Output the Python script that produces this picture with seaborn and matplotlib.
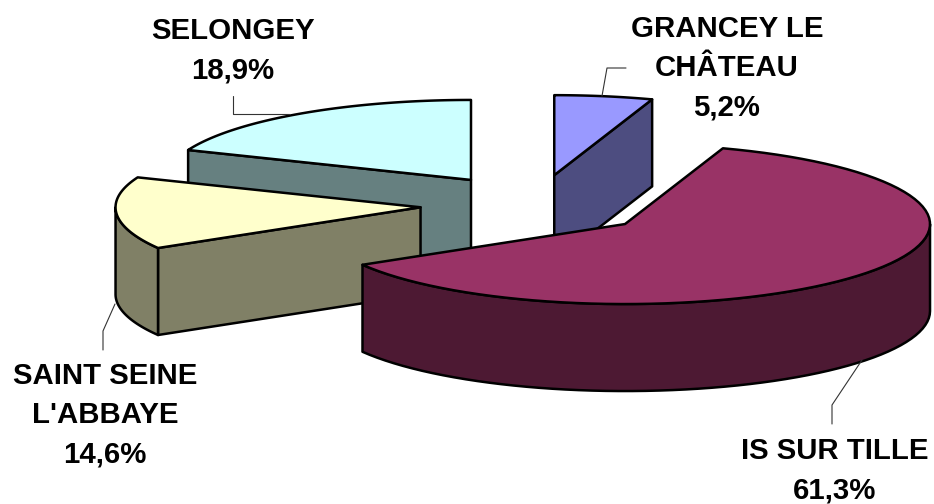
import numpy as np
import matplotlib
matplotlib.use("Agg")
import matplotlib.pyplot as plt
import seaborn as sns

# donnees du camembert (sens horaire depuis midi)
cantons = ["GRANCEY LE\nCHÂTEAU", "IS SUR TILLE", "SAINT SEINE\nL'ABBAYE", "SELONGEY"]
parts = [5.2, 61.3, 14.6, 18.9]
top_colors = ["#9999FF", "#993366", "#FFFFCC", "#CCFFFF"]
side_colors = ["#4D4D80", "#4D1933", "#808066", "#668080"]

# geometrie du pie en perspective, en pixels
CX, CY = 535.5, 205
A, B = 305, 80       # demi-axes de l'ellipse
DEPTH = 87           # epaisseur
EXPLODE = 0.378      # eclatement
DRAW_ORDER = [3, 0, 2, 1]  # du fond vers l'avant

label_pos = [(727, 68), (835, 470.5), (105, 415), (233, 51)]
leaders = [
    [(626, 68), (607, 68), (602, 96)],
    [(862, 360), (832, 405), (832, 424)],
    [(115, 304), (103, 331), (103, 350)],
    [(233, 96), (233, 114), (290, 114)],
]

sns.set_theme(style="white")
plt.rcParams['font.family'] = ['Liberation Sans', 'DejaVu Sans']

fig, ax = plt.subplots(figsize=(9.34, 5.04), dpi=100)
fig.subplots_adjust(0, 0, 1, 1)
ax.set_xlim(0, 934)
ax.set_ylim(504, 0)
ax.axis("off")


def rim_point(center, deg):
    t = np.radians(deg)
    return np.column_stack([center[0] + A * np.sin(t), center[1] - B * np.cos(t)])


def extrude(pts):
    # ruban vertical sous une suite de points
    low = pts[::-1] + [0, DEPTH]
    return np.vstack([pts, low])


def draw_poly(pts, color):
    ax.fill(pts[:, 0], pts[:, 1], facecolor=color, edgecolor="black", linewidth=1.8, joinstyle="round")


edges = np.concatenate([[0], np.cumsum(parts)]) * 3.6

for i in DRAW_ORDER:
    t0, t1 = edges[i], edges[i + 1]
    mid = np.radians((t0 + t1) / 2)
    center = np.array([CX + A * EXPLODE * np.sin(mid), CY - B * EXPLODE * np.cos(mid)])
    apex = center.reshape(1, 2)

    # faces de coupe tournees vers l'avant
    if np.sin(np.radians(t0)) < -1e-6:
        draw_poly(extrude(np.vstack([apex, rim_point(center, t0)])), side_colors[i])
    if np.sin(np.radians(t1)) > 1e-6:
        draw_poly(extrude(np.vstack([apex, rim_point(center, t1)])), side_colors[i])

    # bord exterieur visible (90 a 270 degres)
    lo, hi = max(t0, 90), min(t1, 270)
    if hi > lo:
        draw_poly(extrude(rim_point(center, np.linspace(lo, hi, 60))), side_colors[i])

    # dessus
    top = np.vstack([apex, rim_point(center, np.linspace(t0, t1, 80))])
    draw_poly(top, top_colors[i])

for line in leaders:
    xs, ys = zip(*line)
    ax.plot(xs, ys, color="#333333", linewidth=0.8)

for name, val, (x, y) in zip(cantons, parts, label_pos):
    txt = name + "\n" + f"{val:.1f}".replace(".", ",") + "%"
    ax.text(x, y, txt, ha="center", va="center", fontsize=21.2, fontweight="bold",
            color="black", linespacing=1.52, clip_on=False)

fig.savefig("out.png", dpi=100, facecolor="white")
